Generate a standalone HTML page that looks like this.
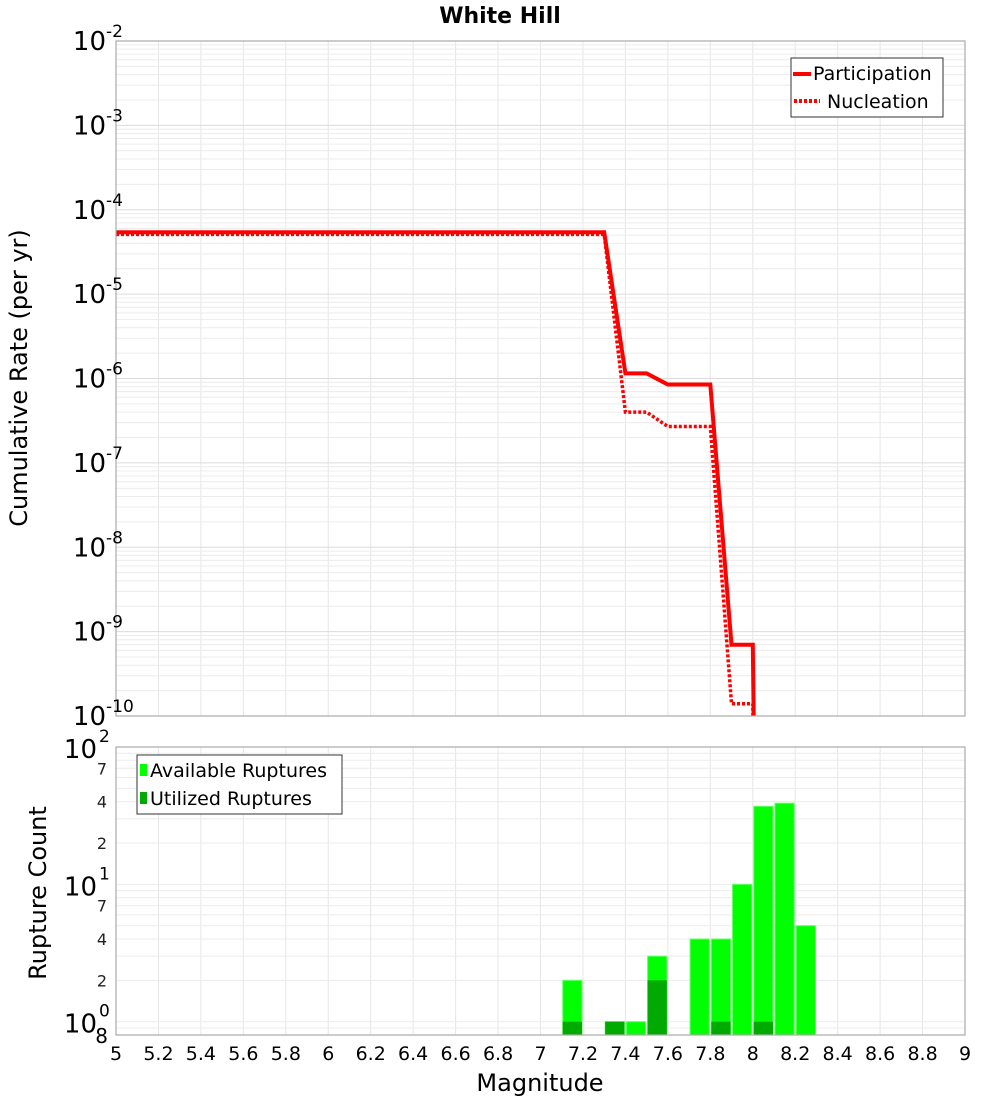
<!DOCTYPE html>
<html><head><meta charset="utf-8">
<style>
html,body{margin:0;padding:0;background:#fff;overflow:hidden;width:1000px;height:1100px;}
svg{display:block;font-family:"DejaVu Sans","Liberation Sans",sans-serif;}
</style></head>
<body>
<svg id="chart" width="1000" height="1100" viewBox="0 0 1000 1100" xmlns="http://www.w3.org/2000/svg">
<defs>
<clipPath id="topclip"><rect x="116" y="41" width="849" height="675"/></clipPath>
</defs>
<rect x="0" y="0" width="1000" height="1100" fill="#fff"/>
<text x="500" y="23" font-size="22" font-weight="bold" text-anchor="middle">White Hill</text>
<g id="topGrid"></g>
<g id="botGrid"></g>
<g id="topSeries" clip-path="url(#topclip)"></g>
<g id="botSeries"></g>
<rect x="116" y="41" width="849" height="675" fill="none" stroke="#aaa" stroke-width="1.2"/>
<rect x="116" y="747" width="849" height="288" fill="none" stroke="#aaa" stroke-width="1.2"/>
<g id="ticks"></g>
<text transform="translate(27,378) rotate(-90)" font-size="24" text-anchor="middle">Cumulative Rate (per yr)</text>
<text transform="translate(46,893) rotate(-90)" font-size="24" text-anchor="middle">Rupture Count</text>
<text x="540" y="1091" font-size="24" text-anchor="middle">Magnitude</text>
<g>
<rect x="791" y="58" width="152" height="59" fill="#fff" stroke="#333" stroke-width="1"/>
<line x1="793" y1="74" x2="811" y2="74" stroke="#f00" stroke-width="4"/>
<text x="813" y="80" font-size="19">Participation</text>
<line x1="794" y1="101" x2="820" y2="101" stroke="#f00" stroke-width="4" stroke-dasharray="3,2"/>
<text x="827" y="108" font-size="19">Nucleation</text>
</g>
<g>
<rect x="137" y="755" width="205" height="59" fill="#fff" stroke="#333" stroke-width="1"/>
<rect x="140" y="764" width="7" height="12" fill="#00ff00"/>
<text x="150" y="777" font-size="19">Available Ruptures</text>
<rect x="140" y="792" width="7" height="12" fill="#00aa00"/>
<text x="150" y="805" font-size="19">Utilized Ruptures</text>
</g>
</svg>
<script>
// data
const magGrid = [5, 7.3, 7.4, 7.5, 7.6, 7.8, 7.9, 8.0, 8.1];
const participation = [5.4e-5, 5.4e-5, 1.15e-6, 1.15e-6, 8.5e-7, 8.5e-7, 7e-10, 7e-10, 1e-30];
const nucleation = [5.1e-5, 5.1e-5, 4.0e-7, 4.0e-7, 2.7e-7, 2.7e-7, 1.4e-10, 1.4e-10, 1e-30];
const binCenters = [7.15, 7.35, 7.45, 7.55, 7.75, 7.85, 7.95, 8.05, 8.15, 8.25];
const available = [2, 1, 1, 3, 4, 4, 10, 37, 39, 5];
const utilized = [1, 1, 0, 2, 0, 1, 0, 1, 0, 0];
const xTicks = ["5","5.2","5.4","5.6","5.8","6","6.2","6.4","6.6","6.8","7","7.2","7.4","7.6","7.8","8","8.2","8.4","8.6","8.8","9"];
const topExps = [-2,-3,-4,-5,-6,-7,-8,-9,-10];
const botMinor = ["2","4","7"];

const NS = "http://www.w3.org/2000/svg";
function mk(tag, attrs, parent){const e=document.createElementNS(NS,tag);for(const k in attrs)e.setAttribute(k,attrs[k]);parent.appendChild(e);return e;}
const X = m => 116 + (m-5)*(849/4);
const YT = v => 41 + (-2 - Math.log10(v))*(675/8);
const YB = v => 747 + (2 - Math.log10(v))*(288/(2-Math.log10(0.8)));

const tg=document.getElementById('topGrid'), bg=document.getElementById('botGrid'), tk=document.getElementById('ticks');
xTicks.forEach(t=>{const x=X(+t);
 let l=mk('line',{x1:x,x2:x,y1:41,y2:716,stroke:'#e6e6e6'},tg);
 
 
 l=mk('line',{x1:x,x2:x,y1:747,y2:1035,stroke:'#e6e6e6'},bg);
 
 
 const tx=mk('text',{x:x,y:1060,'font-size':19,'text-anchor':'middle'},tk);tx.textContent=t;
 
 
});
for(let e=-10;e<-2;e++){for(let k=1;k<10;k++){const y=YT(k*Math.pow(10,e));
 const l=mk('line',{x1:116,x2:965,y1:y,y2:y,stroke:k==1?'#dcdcdc':'#ececec'},tg);
 
 }}
topExps.forEach(e=>{const y=YT(Math.pow(10,e));
 const t=mk('text',{x:106,y:y+9,'font-size':26,'text-anchor':'end'},tk);
 
 
 t.textContent='10';
 const s=mk('text',{x:106,y:y-4,'font-size':17,'text-anchor':'start'},tk);s.textContent=String(e);
 
 
});
for(let e=-1;e<2;e++){for(let k=1;k<10;k++){const v=k*Math.pow(10,e);if(v<0.8)continue;const y=YB(v);
 const l=mk('line',{x1:116,x2:965,y1:y,y2:y,stroke:'#ececec'},bg);
 
 }}
[0,1,2].forEach(e=>{const y=YB(Math.pow(10,e));
 const t=mk('text',{x:97,y:y+11,'font-size':26,'text-anchor':'end'},tk);t.textContent='10';
 
 
 const s=mk('text',{x:99,y:y-5,'font-size':17},tk);s.textContent=String(e);
 
 
 if(e<2) botMinor.forEach(m=>{const yy=YB(+m*Math.pow(10,e));
  const mt=mk('text',{x:107,y:yy+6,'font-size':16,'text-anchor':'end',fill:'#222'},tk);mt.textContent=m;
  
  
 });
});
const eight=mk('text',{x:108,y:1043,'font-size':20,'text-anchor':'end'},tk);eight.textContent='8';



const ts=document.getElementById('topSeries');
function path(vals){return magGrid.map((m,i)=>(i?'L':'M')+X(m).toFixed(1)+','+Math.min(YT(vals[i]),3000).toFixed(1)).join(' ');}
const pl=mk('path',{d:path(participation),fill:'none',stroke:'#f00','stroke-width':4,'stroke-linejoin':'miter'},ts);


const nl=mk('path',{d:path(nucleation),fill:'none',stroke:'#f00','stroke-width':3.5,'stroke-dasharray':'3,2'},ts);



const bs=document.getElementById('botSeries');
binCenters.forEach((c,i)=>{const x0=X(c-0.05)+1,x1=X(c+0.05)-1;
 if(available[i]>0){const y=YB(available[i]);
  const r=mk('rect',{x:x0,y:y,width:x1-x0,height:1035-y,fill:'#00ff00',stroke:'#66ff66','stroke-width':1},bs);
  
  }
 if(utilized[i]>0){const y=YB(utilized[i]);
  const r=mk('rect',{x:x0,y:y,width:x1-x0,height:1035-y,fill:'#00aa00'},bs);
  
  }
});
</script>
</body></html>
